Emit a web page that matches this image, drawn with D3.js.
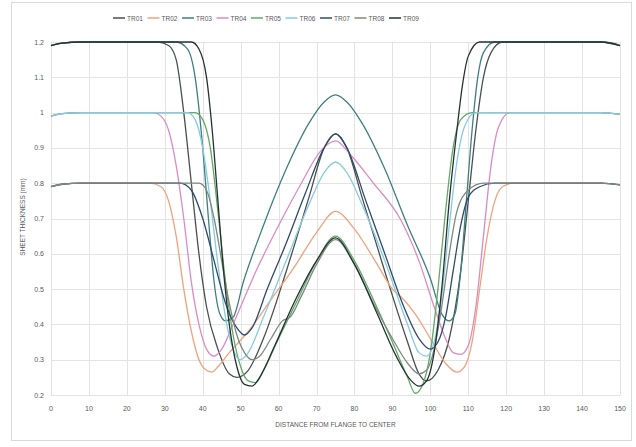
<!DOCTYPE html>
<html>
<head>
<meta charset="utf-8">
<script src="https://cdn.jsdelivr.net/npm/d3@7"></script>
<style>
  body { margin: 0; background: #fff; }
  text { font-family: "Liberation Sans", Arial, sans-serif; fill: #595959; }
</style>
</head>
<body>
<svg id="chart" width="636" height="447"></svg>
<script>
// values: [distance, thickness]
const tr01 = [[0,1.19],[3,1.197],[8,1.2],[28,1.2],[31,1.19],[33,1.15],[35,1.0],[37,0.8],[39,0.6],[41,0.45],[44,0.33],[47,0.26],[49,0.25],[52,0.27],[56,0.36],[62,0.55],[68,0.76],[72,0.9],[75,0.94],[78,0.9],[82,0.76],[88,0.55],[94,0.35],[97,0.26],[99,0.24],[102,0.27],[105,0.36],[108,0.55],[110,0.75],[112,0.95],[114,1.1],[116,1.17],[119,1.2],[145,1.2],[148,1.197],[150,1.19]];
const tr02 = [[0,0.79],[3,0.797],[8,0.8],[26,0.8],[29,0.79],[31,0.75],[33,0.65],[35,0.5],[37,0.38],[39,0.3],[41,0.27],[42.5,0.265],[44,0.28],[47,0.32],[52,0.38],[58,0.47],[64,0.56],[70,0.66],[75,0.72],[80,0.67],[86,0.57],[90,0.5],[93,0.47],[96,0.43],[100,0.36],[104,0.29],[107,0.265],[109,0.28],[111,0.35],[113,0.5],[115,0.65],[117,0.75],[119,0.79],[122,0.8],[145,0.8],[150,0.795]];
const tr03 = [[0,1.19],[3,1.197],[8,1.2],[33,1.2],[36,1.18],[38,1.1],[40,0.9],[41.5,0.7],[43,0.52],[44.5,0.43],[46,0.41],[48,0.42],[50.7,0.52],[56,0.68],[62,0.84],[68,0.97],[72,1.03],[75,1.05],[78,1.03],[82,0.97],[88,0.84],[94,0.68],[100,0.53],[103,0.43],[105,0.41],[106.5,0.43],[108,0.55],[109.5,0.75],[111,0.95],[112.5,1.1],[114,1.17],[117,1.2],[145,1.2],[150,1.19]];
const tr04 = [[0,0.99],[3,0.997],[8,1.0],[27,1.0],[29,0.99],[31,0.95],[33,0.85],[35,0.7],[37,0.52],[39,0.4],[41,0.33],[43,0.31],[45,0.33],[48,0.4],[54,0.55],[60,0.68],[66,0.8],[71,0.89],[75,0.92],[79,0.88],[85,0.8],[92,0.7],[97,0.58],[101,0.45],[104,0.36],[106,0.32],[108,0.315],[110,0.34],[112,0.45],[114,0.65],[116,0.85],[118,0.96],[121,1.0],[145,1.0],[150,0.995]];
const tr05 = [[0,0.99],[3,0.997],[8,1.0],[38,1.0],[40,0.98],[42,0.9],[44,0.72],[46,0.52],[48,0.37],[50,0.28],[52,0.24],[54,0.235],[56,0.27],[60,0.36],[65,0.47],[70,0.58],[75,0.65],[80,0.58],[85,0.47],[90,0.35],[94,0.25],[96,0.205],[98,0.23],[100,0.32],[102,0.5],[104,0.72],[106,0.9],[108,0.98],[111,1.0],[145,1.0],[150,0.995]];
const tr06 = [[0,0.99],[3,0.997],[8,1.0],[36,1.0],[38,0.98],[40,0.9],[42,0.75],[44,0.57],[46,0.42],[48,0.33],[50,0.3],[52,0.32],[56,0.42],[62,0.58],[68,0.74],[72,0.83],[75,0.86],[78,0.83],[82,0.74],[88,0.58],[94,0.4],[97,0.32],[99,0.31],[101,0.35],[103,0.48],[105,0.68],[107,0.86],[109,0.96],[112,1.0],[145,1.0],[150,0.995]];
const tr07 = [[0,0.79],[3,0.797],[8,0.8],[34,0.8],[37,0.78],[40,0.7],[43,0.58],[46,0.46],[49,0.39],[51,0.37],[53,0.39],[57,0.5],[62,0.63],[67,0.77],[72,0.9],[75,0.94],[78,0.9],[83,0.75],[88,0.6],[93,0.45],[97,0.36],[100,0.33],[102,0.35],[104,0.42],[106,0.55],[108,0.68],[110,0.76],[113,0.79],[117,0.8],[145,0.8],[150,0.795]];
const tr08 = [[0,0.79],[3,0.797],[8,0.8],[39,0.8],[41,0.78],[43,0.7],[45,0.58],[47,0.46],[49,0.37],[51,0.32],[53,0.3],[55,0.31],[58,0.36],[61,0.41],[63,0.42],[66,0.48],[70,0.57],[75,0.64],[80,0.57],[85,0.46],[90,0.36],[94,0.29],[97,0.26],[99,0.27],[101,0.33],[103,0.45],[105,0.6],[107,0.72],[110,0.78],[114,0.8],[145,0.8],[150,0.795]];
const tr09 = [[0,1.19],[3,1.197],[8,1.2],[37,1.2],[39,1.18],[41,1.1],[42.5,0.95],[44,0.75],[45.5,0.55],[47,0.4],[49,0.28],[51,0.23],[53,0.225],[55,0.25],[59,0.34],[64,0.46],[70,0.58],[75,0.645],[80,0.57],[86,0.43],[91,0.31],[95,0.24],[97,0.225],[99,0.24],[101,0.32],[103,0.5],[105,0.75],[107,0.95],[108.5,1.08],[110,1.16],[113,1.2],[145,1.2],[150,1.19]];

const names = ["TR01","TR02","TR03","TR04","TR05","TR06","TR07","TR08","TR09"];
const colors = ["#4a4f4f","#f0a27c","#3e7f80","#d98cc4","#62a868","#86cbe0","#2f4b6b","#7d8a80","#263232"];
const xTicks = d3.range(0, 151, 10);
const yTicks = [0.2,0.3,0.4,0.5,0.6,0.7,0.8,0.9,1,1.1,1.2];

const series = [tr01,tr02,tr03,tr04,tr05,tr06,tr07,tr08,tr09].map((pts, i) => ({name: names[i], color: colors[i], pts}));

const W = 636, H = 447;
const svg = d3.select("#chart");

svg.append("rect").attr("width", W).attr("height", H).attr("fill", "#fff");
svg.append("rect")
    .attr("x", 11.5).attr("y", 2.5).attr("width", 620).attr("height", 438)
    .attr("fill", "none").attr("stroke", "#d9d9d9");

const x = d3.scaleLinear().domain([0, 150]).range([51, 620]);
const y = d3.scaleLinear().domain([0.2, 1.2]).range([395, 42]);

// grid
svg.append("g")
  .selectAll("line")
  .data(yTicks)
  .join("line")
    .attr("x1", x(0)).attr("x2", x(150))
    .attr("y1", d => Math.round(y(d)) + 0.5).attr("y2", d => Math.round(y(d)) + 0.5)
    .attr("stroke", "#e3e3e3");

svg.append("g")
  .selectAll("line")
  .data(xTicks)
  .join("line")
    .attr("y1", y(0.2)).attr("y2", y(1.2))
    .attr("x1", d => Math.round(x(d)) + 0.5).attr("x2", d => Math.round(x(d)) + 0.5)
    .attr("stroke", "#e3e3e3");

// axes labels
const fmt = d => d === 1 ? "1" : d3.format(".1f")(d);
svg.append("g")
  .selectAll("text")
  .data(yTicks)
  .join("text")
    .attr("x", 44).attr("y", d => y(d) + 2.5)
    .attr("text-anchor", "end")
    .attr("font-size", 7)
    .text(fmt);

svg.append("g")
  .selectAll("text")
  .data(xTicks)
  .join("text")
    .attr("x", d => x(d)).attr("y", 411)
    .attr("text-anchor", "middle")
    .attr("font-size", 7)
    .text(d => d);

svg.append("text")
    .attr("x", (x(0) + x(150)) / 2).attr("y", 427)
    .attr("text-anchor", "middle")
    .attr("font-size", 6.5)
    .text("DISTANCE FROM FLANGE TO CENTER");

svg.append("text")
    .attr("transform", `translate(25,217) rotate(-90)`)
    .attr("text-anchor", "middle")
    .attr("font-size", 6.5)
    .text("SHEET THICKNESS (mm)");

// lines
const line = d3.line()
    .x(d => x(d[0]))
    .y(d => y(d[1]))
    .curve(d3.curveMonotoneX);

svg.append("g")
    .attr("fill", "none")
    .attr("stroke-width", 1.3)
  .selectAll("path")
  .data(series)
  .join("path")
    .attr("stroke", d => d.color)
    .attr("d", d => line(d.pts));

// legend
const legend = svg.append("g")
  .selectAll("g")
  .data(series)
  .join("g")
    .attr("transform", (d, i) => `translate(${113 + i * 34.5},18)`);

legend.append("line")
    .attr("x1", 0).attr("x2", 12)
    .attr("stroke", d => d.color)
    .attr("stroke-width", 1.5);

legend.append("text")
    .attr("x", 14).attr("y", 2.5)
    .attr("font-size", 6.5)
    .text(d => d.name);
</script>
</body>
</html>
